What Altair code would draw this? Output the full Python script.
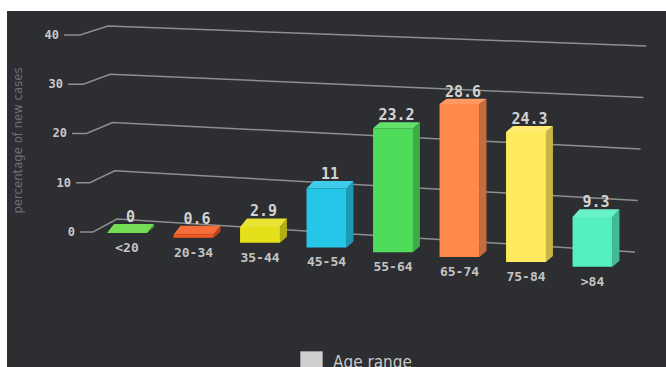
import altair as alt
import pandas as pd

# ---------------- data ----------------
categories = ["<20", "20-34", "35-44", "45-54", "55-64", "65-74", "75-84", ">84"]
values = [0, 0.6, 2.9, 11, 23.2, 28.6, 24.3, 9.3]
bar_colors = ["#62d93e", "#f55a1f", "#e6e01a", "#25c6e8",
              "#4fdc5a", "#ff8a4c", "#ffe95c", "#55f0c0"]
tick_values = [0, 10, 20, 30, 40]
legend_label = "Age range"
y_title = "percentage of new cases"

# ------------- perspective styling (chart units) -------------
STEP_PX = 66.5          # pixels per category step
UNIT_PX = 5.35          # pixels per value unit
HALF_W = 0.30           # half bar width (category units)
DEPTH_X = 7 / STEP_PX   # 3D depth shift, horizontal
BASE_DROP = 0.9         # baseline falls to the right (value units per category)
BOTTOM_DEPTH = 6 / UNIT_PX
COND_FONT = "DejaVu Sans Condensed, Liberation Sans Narrow, Noto Sans, sans-serif"


def top_depth(v):
    return (9 - 0.13 * v) / UNIT_PX


def shade(hx, f):
    r, g, b = int(hx[1:3], 16), int(hx[3:5], 16), int(hx[5:7], 16)
    if f < 1:
        r, g, b = r * f, g * f, b * f
    else:
        t = f - 1
        r, g, b = r + (255 - r) * t, g + (255 - g) * t, b + (255 - b) * t
    return "#%02x%02x%02x" % (int(r), int(g), int(b))


# gridline polyline: (i = a + b*v, u = c + d*v)
grid_pts = [(-0.707, -0.0060, 0.187, 0.9206),
            (-0.511, -0.0049, 0.187, 0.9206),
            (-0.150, -0.0034, 2.617, 0.9018),
            (7.639, 0.0042, -3.551, 0.9626)]

# ---------------- build tables ----------------
front, side, top, vlab, clab = [], [], [], [], []
for i, (c, v, col) in enumerate(zip(categories, values, bar_colors)):
    base = -BASE_DROP * i
    t = base + v
    dt = top_depth(v)
    x0, x1 = i - HALF_W, i + HALF_W
    front.append(dict(cat=c, x=x0, x2=x1, y=base, y2=t, col=col))
    sc = shade(col, 0.78)
    side += [dict(cat=c, x=x1, lo=base, hi=t, col=sc),
             dict(cat=c, x=x1 + DEPTH_X, lo=base + BOTTOM_DEPTH, hi=t + dt, col=sc)]
    tf = shade(col, 1.12)
    top += [dict(cat=c, x=x0, lo=t, hi=t, col=tf),
            dict(cat=c, x=x0 + DEPTH_X, lo=t, hi=t + dt, col=tf),
            dict(cat=c, x=x1, lo=t, hi=t + dt, col=tf),
            dict(cat=c, x=x1 + DEPTH_X, lo=t + dt, hi=t + dt, col=tf)]
    vlab.append(dict(x=i + DEPTH_X / 2, y=t + dt + 0.4, v=v))
    clab.append(dict(x=i, y=base - 15 / UNIT_PX, cat=c))

grid, tlab = [], []
for tv in tick_values:
    for k, (a, b, cc, d) in enumerate(grid_pts):
        grid.append(dict(tick=tv, k=k, x=a + b * tv, y=cc + d * tv))
    a, b, cc, d = grid_pts[0]
    tlab.append(dict(x=a + b * tv - 5 / STEP_PX, y=cc + d * tv, label=str(tv)))

xs = alt.Scale(domain=[-120 / STEP_PX, 539 / STEP_PX], nice=False, zero=False)
ys = alt.Scale(domain=[-134 / UNIT_PX, 222 / UNIT_PX], nice=False, zero=False)
y_axis = alt.Axis(title=y_title, labels=False, ticks=False, domain=False, grid=False,
                  titleX=10, titleY=129, titleAngle=270, titleAlign="center",
                  titleBaseline="middle", titleFont=COND_FONT, zindex=2,
                  titleFontSize=13, titleFontWeight="normal", titleColor="#6f7073")
X = lambda f: alt.X(f, type="quantitative", scale=xs, axis=None)
Y = lambda f: alt.Y(f, type="quantitative", scale=ys, axis=y_axis, stack=None)

backdrop = alt.Chart(pd.DataFrame({"k": [0]})).mark_rect(color="#2d2e31").encode(
    x=alt.value(0), x2=alt.value(659), y=alt.value(0), y2=alt.value(356))

grid_layer = alt.Chart(pd.DataFrame(grid)).mark_line(
    color="#8d8e90", strokeWidth=1.5).encode(
    x=X("x"), y=Y("y"), detail="tick:N", order="k:Q")

side_layer = alt.Chart(pd.DataFrame(side)).mark_area(orient="vertical").encode(
    x=X("x"), y=Y("hi"), y2="lo", detail="cat:N",
    color=alt.Color("col:N", scale=None))

top_layer = alt.Chart(pd.DataFrame(top)).mark_area(orient="vertical").encode(
    x=X("x"), y=Y("hi"), y2="lo", detail="cat:N",
    color=alt.Color("col:N", scale=None))

front_layer = alt.Chart(pd.DataFrame(front)).mark_rect().encode(
    x=X("x"), x2="x2", y=Y("y"), y2="y2",
    color=alt.Color("col:N", scale=None))

value_layer = alt.Chart(pd.DataFrame(vlab)).mark_text(
    font="DejaVu Sans Mono", fontWeight="bold", fontSize=15, color="#d2d2d2",
    baseline="alphabetic", align="center").encode(
    x=X("x"), y=Y("y"), text=alt.Text("v:Q", format=".1~f"))

cat_layer = alt.Chart(pd.DataFrame(clab)).mark_text(
    font="DejaVu Sans Mono", fontSize=13, fontWeight="bold", color="#c4c4c4",
    baseline="middle", align="center").encode(
    x=X("x"), y=Y("y"), text="cat:N")

tick_layer = alt.Chart(pd.DataFrame(tlab)).mark_text(
    font="DejaVu Sans Mono", fontWeight="bold", fontSize=12, color="#c9c9c9",
    baseline="middle", align="right").encode(
    x=X("x"), y=Y("y"), text="label:N")

legend_layer = alt.Chart(pd.DataFrame({"series": [legend_label]})).mark_square(
    opacity=0).encode(
    color=alt.Color("series:N",
                    scale=alt.Scale(domain=[legend_label], range=["#cfcfd0"]),
                    legend=alt.Legend(orient="none", legendX=293, legendY=340, title=None,
                                      symbolType="square", symbolSize=500,
                                      symbolStrokeWidth=0, symbolOpacity=1,
                                      labelFont=COND_FONT, labelFontSize=17,
                                      labelColor="#c8c8c8", labelOffset=10)))

chart = alt.layer(backdrop, grid_layer, side_layer, top_layer, front_layer,
                  value_layer, cat_layer, tick_layer, legend_layer).properties(
    width=659, height=356,
    padding={"left": 7, "top": 11, "right": 0, "bottom": 0},
    autosize=alt.AutoSizeParams(type="none"),
    background="white",
).configure_view(strokeWidth=0)

chart.save("out.html", embed_options={"renderer": "svg", "actions": False})
